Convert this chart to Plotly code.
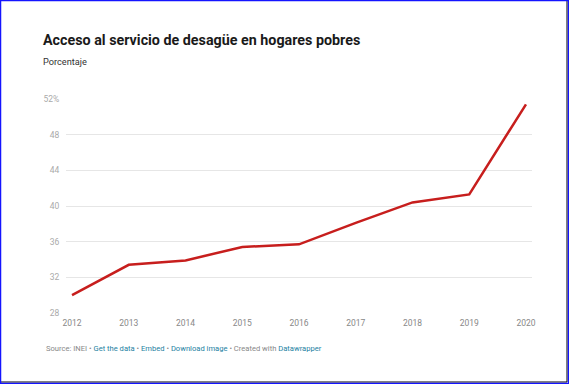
import plotly.graph_objects as go

years = [2012, 2013, 2014, 2015, 2016, 2017, 2018, 2019, 2020]
values = [30.0, 33.4, 33.9, 35.4, 35.7, 38.1, 40.4, 41.3, 51.4]
y_ticks = [28, 32, 36, 40, 44, 48, 52]
y_labels = ["28", "32", "36", "40", "44", "48", "52%"]

fig = go.Figure()
fig.add_trace(go.Scatter(x=years, y=values, mode="lines",
                         line=dict(color="#c71e1d", width=2.5), hoverinfo="x+y"))

fig.update_layout(
    width=569, height=384,
    margin=dict(l=66, r=37, t=99, b=71),
    paper_bgcolor="white", plot_bgcolor="white",
    showlegend=False,
    font=dict(family="Roboto", color="#999999", size=8),
    xaxis=dict(range=[2011.894, 2020.106], tickvals=years, ticktext=[str(y) for y in years],
               showgrid=False, zeroline=False, showline=False,
               ticks="outside", ticklen=2, tickcolor="rgba(0,0,0,0)",
               tickfont=dict(family="Roboto", size=8.5, color="#888888"), fixedrange=True),
    yaxis=dict(range=[28, 52], tickvals=y_ticks, ticktext=y_labels,
               showgrid=True, gridcolor="#e6e6e6", gridwidth=1, zeroline=False, showline=False,
               ticks="outside", ticklen=4, tickcolor="rgba(0,0,0,0)",
               tickfont=dict(family="Roboto", size=8.5, color="#aaaaaa"), fixedrange=True),
    annotations=[
        dict(text="<b>Acceso al servicio de desagüe en hogares pobres</b>", xref="paper", yref="paper",
             x=-25/466, y=1 + (99 - 40) / 214, xanchor="left", yanchor="middle", showarrow=False,
             font=dict(family="Roboto", size=14.3, color="#1a1a1a")),
        dict(text="Porcentaje", xref="paper", yref="paper",
             x=-25/466, y=1 + (99 - 62) / 214, xanchor="left", yanchor="middle", showarrow=False,
             font=dict(family="Roboto", size=9.2, color="#333333")),
        dict(text="Source: INEI • <span style='color:#1d81a2'>Get the data</span> • "
                  "<span style='color:#1d81a2'>Embed</span> • "
                  "<span style='color:#1d81a2'>Download image</span> • Created with "
                  "<span style='color:#1d81a2'>Datawrapper</span>",
             xref="paper", yref="paper",
             x=-22/466, y=-(348 - 313) / 214, xanchor="left", yanchor="middle", showarrow=False,
             font=dict(family="Roboto", size=7.6, color="#888888")),
    ],
    shapes=[
        dict(type="line", xref="paper", yref="paper", x0=(567 - 66) / 466, x1=(567 - 66) / 466,
             y0=-(382 - 313) / 214, y1=1 + 99 / 214, line=dict(color="black", width=1)),
        dict(type="line", xref="paper", yref="paper", x0=-66 / 466, x1=(567 - 66) / 466,
             y0=-(382 - 313) / 214, y1=-(382 - 313) / 214, line=dict(color="black", width=1)),
        dict(type="rect", xref="paper", yref="paper", x0=-65.5 / 466, x1=(568.5 - 66) / 466,
             y0=-(383.5 - 313) / 214, y1=1 + 98.5 / 214, line=dict(color="#1414ff", width=1.5)),
    ],
)

fig.write_html("out.html", config={"displayModeBar": False},
               post_script="document.body.style.margin='0';document.body.style.overflow='hidden';")
